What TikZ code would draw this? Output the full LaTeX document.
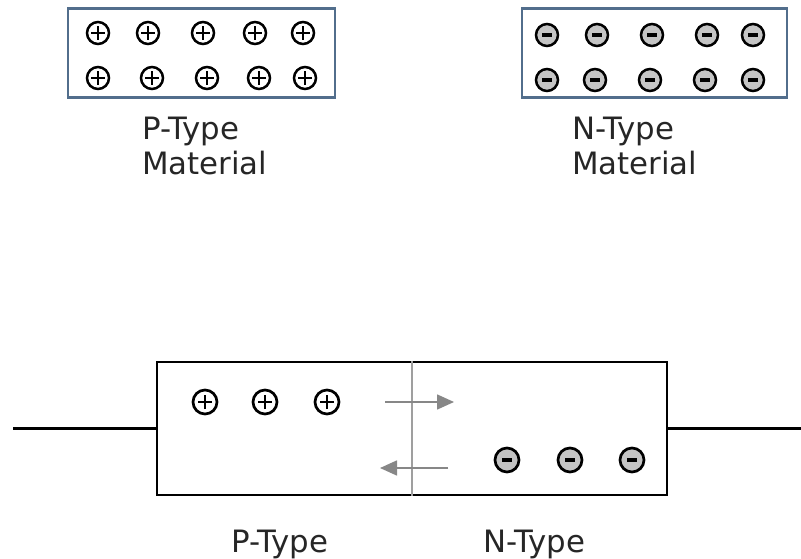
\documentclass[tikz,border=0pt]{standalone}
\usepackage{fontspec}
\setmainfont{DejaVu Sans}
\usepackage{tikz}
\usetikzlibrary{positioning,arrows.meta}
\definecolor{slabc}{RGB}{82,110,140}
\definecolor{holec}{RGB}{196,196,196}
\definecolor{flowc}{RGB}{135,135,135}

\begin{document}
\begin{tikzpicture}[x=1pt,y=-1pt,>={Triangle[length=17pt,width=15pt]},
  slab/.style={draw=slabc,line width=2.6pt,minimum width=265pt,minimum height=89pt},
  junc/.style={draw,line width=2.8pt,minimum width=510pt,minimum height=133pt},
  phole/.style={circle,draw,line width=2.5pt,minimum size=22pt,inner sep=0pt,fill=white,
    path picture={\draw[line width=1.3pt]
      ([xshift=-7pt]path picture bounding box.center)--([xshift=7pt]path picture bounding box.center)
      ([yshift=-7pt]path picture bounding box.center)--([yshift=7pt]path picture bounding box.center);}},
  nelec/.style={circle,draw,line width=2.5pt,minimum size=22pt,inner sep=0pt,fill=holec,
    path picture={\draw[line width=3.4pt]
      ([xshift=-5pt]path picture bounding box.center)--([xshift=5pt]path picture bounding box.center);}},
  big/.style={minimum size=24pt,line width=2.7pt},
  lbl/.style={font=\fontsize{30.8pt}{35pt}\selectfont,align=left,inner sep=0pt,anchor=north west,text=black!85},
  flow/.style={->,draw=flowc,fill=flowc,line width=1.6pt}]
  \useasboundingbox (0,0) rectangle (801,559);
  % separate materials
  \node[slab,minimum width=267pt] (pslab) at (201.5,53) {};
  \node[slab] (nslab) at (654.5,53) {};
  \foreach \x/\y [count=\i] in {98/33,148/33,203/33,255/33,303/33,98/78,152/78,207/78,259/78,305/78}
    \node[phole] (pt\i) at (\x,\y) {};
  \foreach \x/\y [count=\i] in {547/35,597/35,652/35,707/35,753/35,547/80,595/80,650/80,705/80,753/80}
    \node[nelec] (nt\i) at (\x,\y) {};
  \node[lbl] (plab) at (142,117) {P-Type\\Material};
  \node[lbl] (nlab) at (572,117) {N-Type\\Material};
  % junction
  \node[junc] (junc) at (412,428.5) {};
  \draw[flowc!80,line width=1.2pt] (junc.north)--(junc.south);
  \coordinate (lend) at (13,428.5);
  \coordinate (rend) at (801,428.5);
  \draw[line width=2.6pt] (lend)--(junc.west);
  \draw[line width=2.6pt] (junc.east)--(rend);
  \foreach \x [count=\i] in {205,265,327}
    \node[phole,big] (pj\i) at (\x,402) {};
  \foreach \x [count=\i] in {507,570,632}
    \node[nelec,big] (nj\i) at (\x,460) {};
  \coordinate (ha) at (385,402);
  \coordinate (hb) at (454,402);
  \coordinate (ea) at (448,468);
  \coordinate (eb) at (380,468);
  \draw[flow] (ha)--(hb);
  \draw[flow] (ea)--(eb);
  \node[lbl] (pjlab) at (231,529.5) {P-Type};
  \node[lbl] (njlab) at (483,529.5) {N-Type};
\end{tikzpicture}
\end{document}
